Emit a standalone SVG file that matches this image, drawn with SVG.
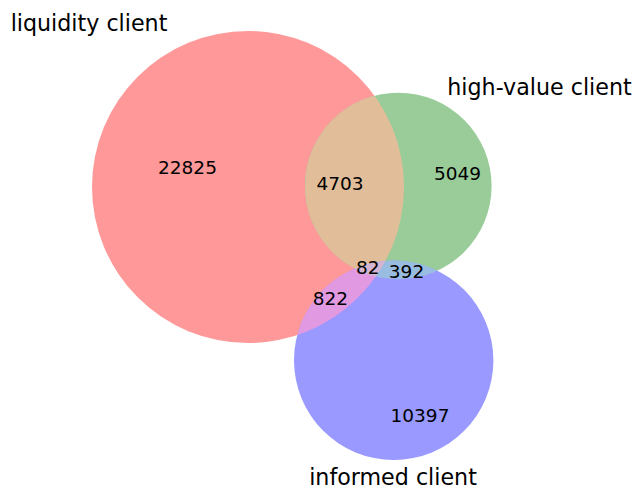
<svg xmlns="http://www.w3.org/2000/svg" width="634" height="489" viewBox="0 0 634 489">
  <style>
    .num { font-family: "DejaVu Sans", sans-serif; font-size: 18.5px; fill: #000; text-anchor: middle; }
    .lbl { font-family: "DejaVu Sans", sans-serif; font-size: 22.2px; fill: #000; text-anchor: middle; }
  </style>
  <defs>
    <circle id="cA" cx="248" cy="187" r="156"/>
    <circle id="cB" cx="398.3" cy="186" r="93.3"/>
    <circle id="cC" cx="393.7" cy="360.3" r="99.7"/>
    <clipPath id="clipA"><use href="#cA"/></clipPath>
    <clipPath id="clipB"><use href="#cB"/></clipPath>
    <clipPath id="clipAB" clip-path="url(#clipA)"><use href="#cB"/></clipPath>
  </defs>
  <rect width="634" height="489" fill="#ffffff"/>
  <g id="set-liquidity">
    <use href="#cA" fill="#ff9999"/>
  </g>
  <g id="set-high-value">
    <use href="#cB" fill="#99cc99"/>
  </g>
  <g id="set-informed">
    <use href="#cC" fill="#9999ff"/>
  </g>
  <g id="overlaps">
    <use href="#cB" fill="#e1bd99" clip-path="url(#clipA)"/>
    <use href="#cC" fill="#e199e1" clip-path="url(#clipA)"/>
    <use href="#cC" fill="#99bde1" clip-path="url(#clipB)"/>
    <use href="#cC" fill="#d4b6d4" clip-path="url(#clipAB)"/>
  </g>
  <g id="counts">
    <text class="num" x="187.5" y="174">22825</text>
    <text class="num" x="340" y="190">4703</text>
    <text class="num" x="457.5" y="180">5049</text>
    <text class="num" x="367.7" y="274">82</text>
    <text class="num" x="406.5" y="277.5">392</text>
    <text class="num" x="330.3" y="304.5">822</text>
    <text class="num" x="420" y="422">10397</text>
  </g>
  <g id="labels">
    <text class="lbl" x="89" y="30.5">liquidity client</text>
    <text class="lbl" x="539.5" y="95">high-value client</text>
    <text class="lbl" x="393" y="485">informed client</text>
  </g>
</svg>
